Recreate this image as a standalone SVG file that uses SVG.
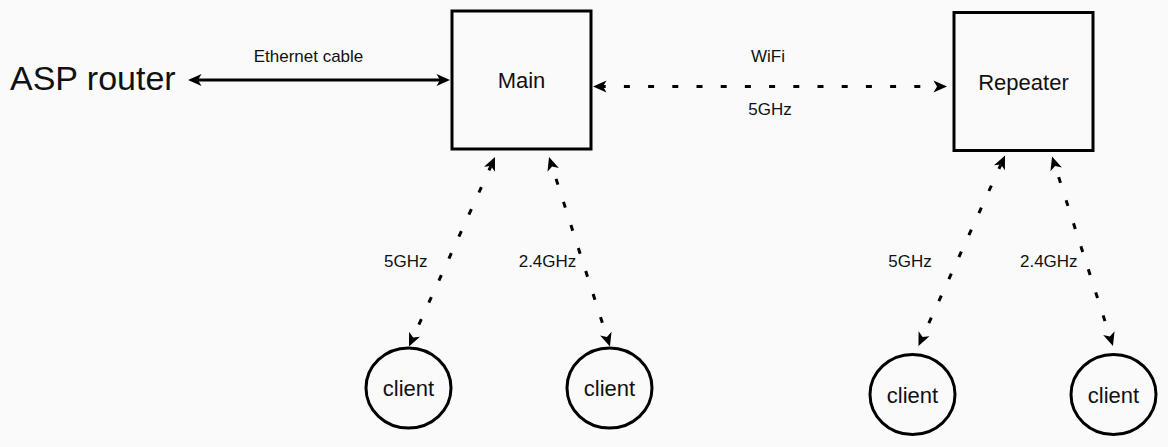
<svg xmlns="http://www.w3.org/2000/svg" width="1168" height="447" viewBox="0 0 1168 447">
  <defs>
    <style>
      text { font-family: "Liberation Sans", Arial, sans-serif; fill: #111; }
      .big { font-size: 34px; }
      .lbl { font-size: 17px; text-anchor: middle; }
      .node { font-size: 22px; text-anchor: middle; }
      .box { fill: none; stroke: #000; stroke-width: 3; }
      .conn { fill: none; stroke: #000; stroke-width: 3; marker-start: url(#arrow); marker-end: url(#arrow); }
      .dash { stroke-dasharray: 6 18.2; }
    </style>
    <marker id="arrow" markerUnits="userSpaceOnUse" viewBox="-4 -7 16 14" refX="0" refY="0" markerWidth="16" markerHeight="14" orient="auto-start-reverse">
      <path d="M10,0 L-3.5,-6 L0,0 L-3.5,6 Z" fill="#000"/>
    </marker>
  </defs>
  <rect width="1168" height="447" fill="#fafafa"/>

  <g id="asp-router">
    <text class="big" x="10" y="90">ASP router</text>
  </g>

  <g id="main">
    <rect class="box" x="452" y="11" width="139" height="138"/>
    <text class="node" x="521.5" y="88">Main</text>
  </g>

  <g id="repeater">
    <rect class="box" x="954" y="12.5" width="139" height="138"/>
    <text class="node" x="1023.5" y="90">Repeater</text>
  </g>

  <g id="client-main-5">
    <ellipse class="box" cx="408.5" cy="388" rx="42.5" ry="40"/>
    <text class="node" x="408.5" y="396">client</text>
  </g>
  <g id="client-main-24">
    <ellipse class="box" cx="609.5" cy="388" rx="42.5" ry="40"/>
    <text class="node" x="609.5" y="396">client</text>
  </g>
  <g id="client-rep-5">
    <ellipse class="box" cx="912.5" cy="394.5" rx="42.5" ry="40"/>
    <text class="node" x="912.5" y="403">client</text>
  </g>
  <g id="client-rep-24">
    <ellipse class="box" cx="1113.5" cy="394.5" rx="42.5" ry="40"/>
    <text class="node" x="1113.5" y="403">client</text>
  </g>

  <g id="connectors">
    <line class="conn" x1="198" y1="80" x2="440" y2="80"/>
    <text class="lbl" x="308.5" y="62">Ethernet cable</text>

    <line class="conn dash" x1="603" y1="86.5" x2="937" y2="86.5" stroke-dashoffset="3.3"/>
    <text class="lbl" x="768" y="62">WiFi</text>
    <text class="lbl" x="770" y="115">5GHz</text>

    <line class="conn dash" x1="490.9" y1="166.1" x2="413.1" y2="337.4" stroke-dashoffset="1.2"/>
    <text class="lbl" x="405.8" y="266.7">5GHz</text>

    <line class="conn dash" x1="552.1" y1="166.5" x2="606.9" y2="337" stroke-dashoffset="11.2"/>
    <text class="lbl" x="547.5" y="266.7">2.4GHz</text>

    <line class="conn dash" x1="1000.9" y1="164.6" x2="922.6" y2="336.9" stroke-dashoffset="1.2"/>
    <text class="lbl" x="910" y="266.7">5GHz</text>

    <line class="conn dash" x1="1055.1" y1="166" x2="1109.9" y2="336.5" stroke-dashoffset="12.5"/>
    <text class="lbl" x="1048.8" y="266.7">2.4GHz</text>
  </g>
</svg>
